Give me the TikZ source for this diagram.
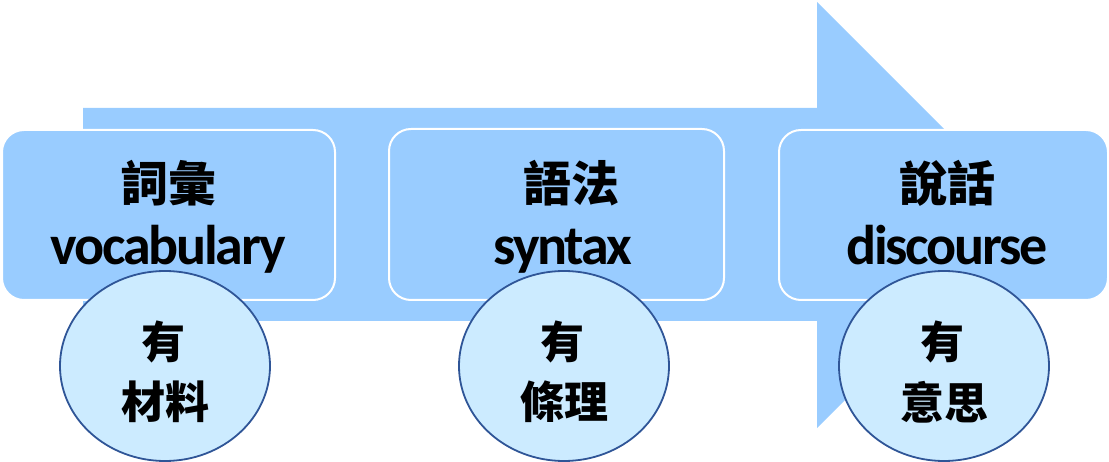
\documentclass[tikz,border=0pt]{standalone}
\usepackage{fontspec}
\usetikzlibrary{shapes.geometric}
\setmainfont{Carlito}
\newfontfamily\engtight[LetterSpace=-4]{Carlito}
\newfontfamily\cjk{Noto Sans CJK TC}
\definecolor{arrowblue}{HTML}{99CCFF}
\definecolor{circfill}{HTML}{CCEBFF}
\definecolor{circline}{HTML}{2F5597}
\begin{document}
\begin{tikzpicture}[x=1pt,y=-1pt,
  stagebox/.style={draw=white,line width=2pt,fill=arrowblue,rounded corners=22pt},
  bubble/.style={ellipse,draw=circline,line width=1.8pt,fill=circfill,minimum width=210pt,minimum height=190pt,inner sep=0pt},
  cjkbig/.style={font=\cjk\bfseries\fontsize{48}{52}\selectfont,inner sep=0pt},
  engbig/.style={font=\engtight\bfseries\fontsize{56}{60}\selectfont,inner sep=0pt,anchor=base},
  cjksmall/.style={font=\cjk\bfseries\fontsize{44}{48}\selectfont,inner sep=0pt}
]
\useasboundingbox (0,0) rectangle (1109,462);
% big arrow
\fill[arrowblue] (83,108) -- (817,108) -- (817,2) -- (1030,215) -- (817,428) -- (817,321) -- (83,321) -- cycle;
% boxes
\draw[stagebox] (2,130) rectangle (335,300);
\draw[stagebox] (389,129) rectangle (724,300);
\draw[stagebox] (779,130) rectangle (1108,300);
% box texts
\node[cjkbig] (t1) at (168,183) {詞彙};
\node[engbig] (e1) at (168,265) {vocabulary};
\node[cjkbig] (t2) at (571,183) {語法};
\node[engbig] (e2) at (563,265) {syntax};
\node[cjkbig] (t3) at (947,183) {說話};
\node[engbig] (e3) at (947,265) {discourse};
% circles
\node[bubble] (c1) at (165,366) {};
\node[bubble] (c2) at (564,366) {};
\node[bubble] (c3) at (944,366) {};
\node[cjksmall] (a1) at (163,342) {有};
\node[cjksmall] (b1) at (165,402) {材料};
\node[cjksmall] (a2) at (562,342) {有};
\node[cjksmall] (b2) at (564,402) {條理};
\node[cjksmall] (a3) at (942,342) {有};
\node[cjksmall] (b3) at (944,402) {意思};
\end{tikzpicture}
\end{document}
